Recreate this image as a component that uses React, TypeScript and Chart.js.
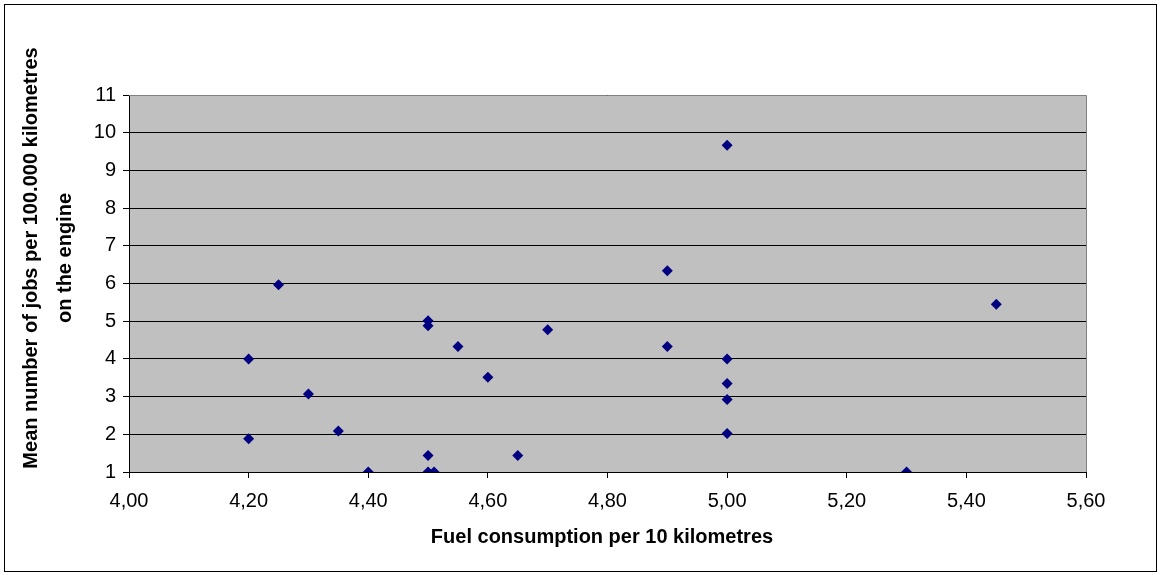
import React, { useEffect, useRef } from "react";
import { Chart, registerables } from "chart.js";

Chart.register(...registerables);

// Fuel consumption per 10 km (x) and mean number of engine jobs per 100.000 km (y)
const fuelConsumption: number[] = [
  4.2, 4.2, 4.25, 4.3, 4.35, 4.4, 4.5, 4.5, 4.5, 4.5, 4.51, 4.55, 4.6, 4.65,
  4.7, 4.9, 4.9, 5.0, 5.0, 5.0, 5.0, 5.0, 5.3, 5.45,
];
const meanJobs: number[] = [
  4.0, 1.88, 5.97, 3.07, 2.09, 1.0, 5.01, 4.88, 1.44, 1.0, 1.0, 4.33, 3.51, 1.44,
  4.77, 4.33, 6.34, 9.67, 4.0, 3.35, 2.92, 2.02, 1.0, 5.45,
];

const xMin = 4.0;
const xMax = 5.6;
const xStep = 0.2;
const yMin = 1;
const yMax = 11;
const yStep = 1;

const xTitle = "Fuel consumption per 10 kilometres";
const yTitleLines: string[] = [
  "Mean number of jobs per 100.000 kilometres",
  "on the engine",
];

const FONT = "'Liberation Sans', Arial, Helvetica, sans-serif";

export default function App() {
  const canvasRef = useRef<HTMLCanvasElement | null>(null);

  useEffect(() => {
    const canvas = canvasRef.current;
    if (!canvas) return;

    const points = fuelConsumption.map((x, i) => ({ x, y: meanJobs[i] }));

    const decor = {
      id: "decor",
      beforeDraw(chart: any) {
        const { ctx, chartArea } = chart;
        ctx.save();
        ctx.fillStyle = "#ffffff";
        ctx.fillRect(0, 0, chart.width, chart.height);
        ctx.fillStyle = "#C0C0C0";
        ctx.fillRect(
          chartArea.left,
          chartArea.top,
          chartArea.right - chartArea.left,
          chartArea.bottom - chartArea.top
        );
        ctx.restore();
      },
      beforeDatasetsDraw(chart: any) {
        const { ctx, chartArea } = chart;
        ctx.save();
        ctx.strokeStyle = "#808080";
        ctx.lineWidth = 1;
        ctx.beginPath();
        ctx.moveTo(chartArea.left, chartArea.top + 0.5);
        ctx.lineTo(chartArea.right + 0.5, chartArea.top + 0.5);
        ctx.lineTo(chartArea.right + 0.5, chartArea.bottom);
        ctx.stroke();
        ctx.restore();
      },
      afterDraw(chart: any) {
        const { ctx } = chart;
        ctx.save();
        // outer frame
        ctx.strokeStyle = "#000000";
        ctx.lineWidth = 1;
        ctx.strokeRect(4.5, 4.5, 1152, 567);
        // axis titles
        ctx.fillStyle = "#000000";
        ctx.font = `bold 20px ${FONT}`;
        ctx.textAlign = "center";
        ctx.textBaseline = "alphabetic";
        ctx.fillText(xTitle, 602, 543);
        const baselines = [37, 71];
        yTitleLines.forEach((line, i) => {
          ctx.save();
          ctx.translate(baselines[i], 258);
          ctx.rotate(-Math.PI / 2);
          ctx.fillText(line, 0, 0);
          ctx.restore();
        });
        ctx.restore();
      },
    };

    const chart = new Chart(canvas, {
      type: "scatter",
      data: {
        datasets: [
          {
            data: points,
            pointStyle: "rectRot",
            pointRadius: 5.5,
            pointHoverRadius: 5.5,
            backgroundColor: "#000080",
            borderColor: "#000080",
            borderWidth: 0,
          },
        ],
      },
      options: {
        animation: false,
        responsive: false,
        maintainAspectRatio: false,
        layout: { padding: { left: 0, top: 95, right: 74, bottom: 0 } },
        plugins: {
          legend: { display: false },
          tooltip: { enabled: false },
          title: { display: false },
        },
        scales: {
          x: {
            type: "linear",
            min: xMin,
            max: xMax,
            afterFit(scale: any) {
              scale.height = 103;
            },
            ticks: {
              stepSize: xStep,
              padding: 11,
              color: "#000000",
              font: { family: FONT, size: 20 },
              maxRotation: 0,
              autoSkip: false,
              callback: (v: any) => Number(v).toFixed(2).replace(".", ","),
            },
            grid: {
              drawOnChartArea: false,
              drawTicks: true,
              tickLength: 6,
              color: "#000000",
            },
            border: { display: true, color: "#000000", width: 1 },
          },
          y: {
            type: "linear",
            min: yMin,
            max: yMax,
            afterFit(scale: any) {
              scale.width = 129;
            },
            ticks: {
              stepSize: yStep,
              padding: 7,
              color: "#000000",
              font: { family: FONT, size: 20 },
              autoSkip: false,
            },
            grid: {
              drawOnChartArea: true,
              drawTicks: true,
              tickLength: 6,
              color: "#000000",
              lineWidth: 1,
            },
            border: { display: true, color: "#000000", width: 1 },
          },
        },
      },
      plugins: [decor],
    });

    return () => chart.destroy();
  }, []);

  return (
    <div style={{ position: "absolute", left: 0, top: 0, width: 1160, height: 575 }}>
      <canvas ref={canvasRef} width={1160} height={575} />
    </div>
  );
}
